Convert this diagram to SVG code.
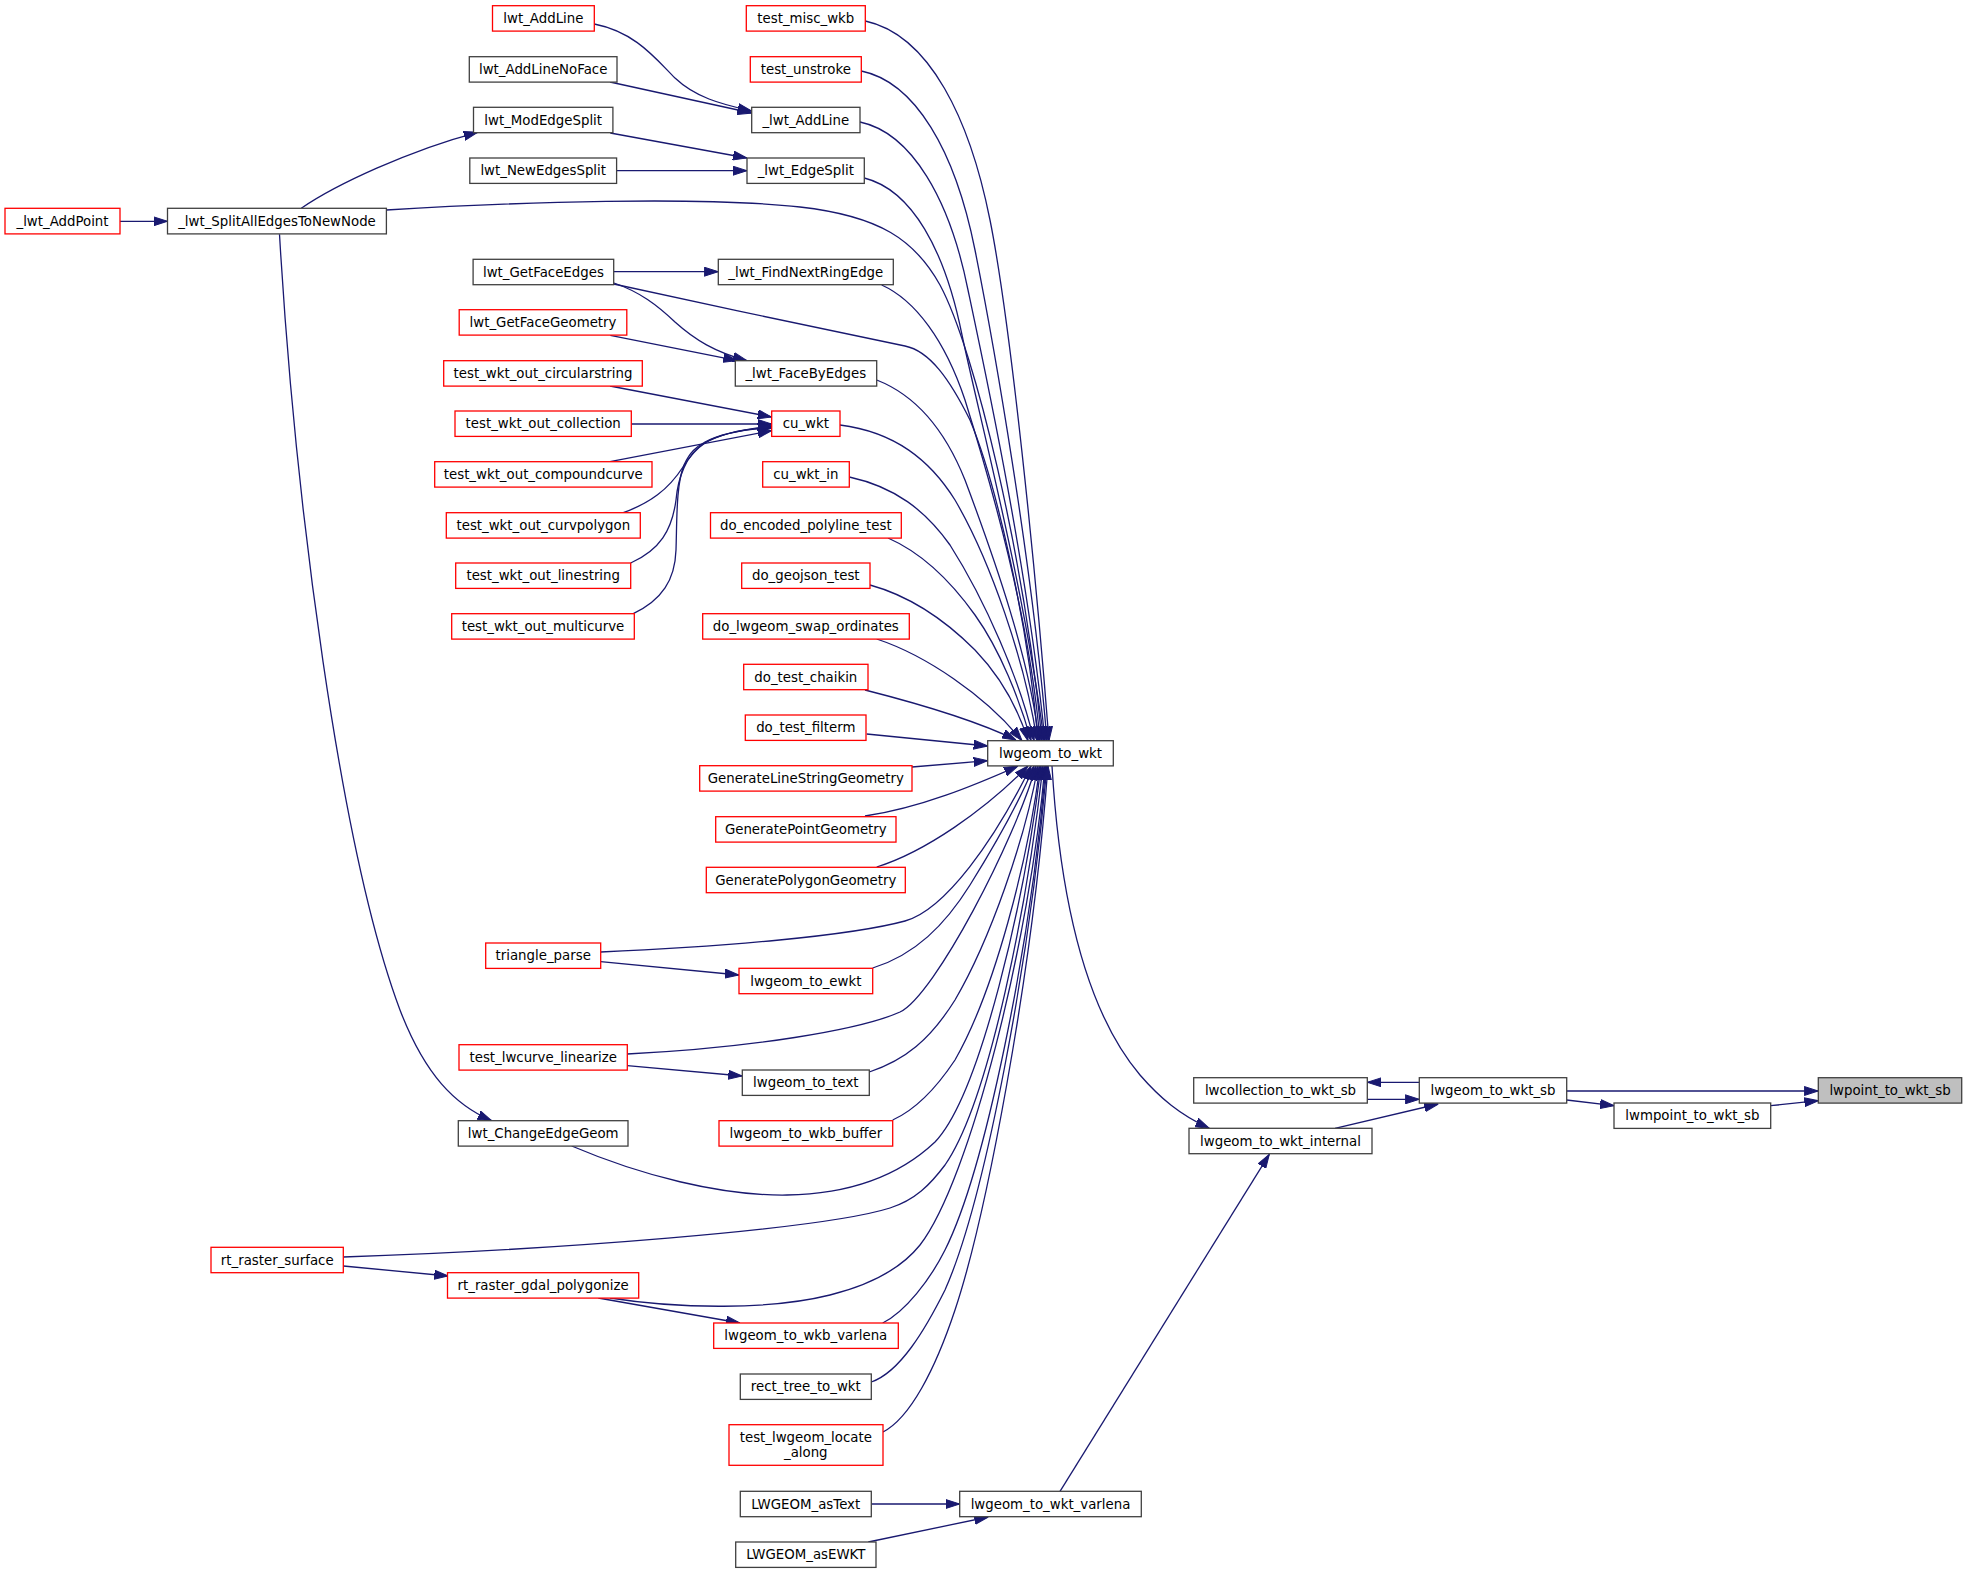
<svg xmlns="http://www.w3.org/2000/svg" width="1967" height="1573" viewBox="0 0 1967 1573">
<style>
.n rect{fill:#ffffff;stroke:#404040;stroke-width:1.3}
.n.r rect{stroke:#ff0000}
.n.g rect{fill:#bfbfbf}
.n text{font-family:"DejaVu Sans","Liberation Sans",sans-serif;font-size:13.33px;fill:#000000;text-anchor:middle}
#edges path{fill:none;stroke:#191970;stroke-width:1.3;marker-end:url(#ah)}
</style>
<defs>
<marker id="ah" markerWidth="14" markerHeight="10" refX="14" refY="5" orient="auto" markerUnits="userSpaceOnUse">
<path d="M0,0.5 L14,5 L0,9.5 z" fill="#191970" stroke="#191970" stroke-width="1"/>
</marker>
</defs>
<rect x="0" y="0" width="1967" height="1573" fill="#ffffff"/>
<g id="edges">
<path d="M1566.7,1091 L1818.3,1091"/>
<path d="M1770.7,1105.7 L1818.3,1100.7"/>
<path d="M1566.7,1100 L1614,1105.7"/>
<path d="M1419.3,1082.3 L1367.3,1082.3"/>
<path d="M1367.3,1099.3 L1419.3,1099.3"/>
<path d="M1335,1128.3 L1438.3,1104"/>
<path d="M1052,766 C1060,900 1085,1010 1140,1075 C1160,1098 1180,1115 1209.3,1128.3"/>
<path d="M1060,1491.3 L1269.3,1154.3"/>
<path d="M871.3,1504 L959.7,1504"/>
<path d="M868.3,1542 L988.3,1517"/>
<path d="M865.3,21 C930,35 970,120 990,220 C1010,320 1035,560 1049,740.7"/>
<path d="M861.3,71 C915,82 955,150 975,250 C993,340 1032,560 1047,740.7"/>
<path d="M860,122 C912,133 950,200 968,290 C985,370 1028,570 1045,740.7"/>
<path d="M864.3,178 C912,190 945,250 962,335 C980,420 1025,590 1044,740.7"/>
<path d="M386.4,210 C520,202 700,196 800,207 C880,216 915,240 940,285 C975,350 1025,560 1042,740.7"/>
<path d="M881.7,285 C915,300 945,340 965,400 C990,480 1030,620 1040,740.7"/>
<path d="M613.7,284 C700,303 850,335 905,346 C930,351 950,380 970,420 C995,480 1028,620 1038,740.7"/>
<path d="M876.7,380 C915,395 945,430 965,480 C995,560 1030,660 1039,740.7"/>
<path d="M840,425 C895,432 930,460 955,500 C990,560 1025,660 1037,740.7"/>
<path d="M849.3,477 C895,487 925,510 950,545 C985,600 1020,680 1034,740.7"/>
<path d="M888,538 C920,552 950,580 975,615 C1000,650 1020,700 1031,740.7"/>
<path d="M870,585 C910,596 945,620 975,650 C1000,676 1017,705 1028,740.7"/>
<path d="M876.7,639 C925,655 985,695 1022,740.7"/>
<path d="M865,690 C920,704 975,720 1016,740"/>
<path d="M866.7,734 L987.7,746"/>
<path d="M912,767 L987.7,760.7"/>
<path d="M865,816 C920,808 975,785 1018,766"/>
<path d="M876.7,867 C925,852 985,810 1028,766"/>
<path d="M600.7,952 C720,947 850,936 905,921 C945,910 995,840 1031,766"/>
<path d="M872.7,968 C915,955 945,925 970,885 C995,845 1020,800 1034,766"/>
<path d="M627.3,1054 C750,1048 860,1030 900,1012 C935,995 1015,840 1036,766"/>
<path d="M869.3,1072 C905,1060 930,1040 955,1000 C990,940 1025,840 1038,766"/>
<path d="M892.7,1120 C915,1110 935,1090 955,1060 C995,990 1028,860 1040,766"/>
<path d="M571.7,1146 C640,1175 720,1196 787,1195 C850,1194 900,1175 935,1142 C980,1095 1025,900 1041,766"/>
<path d="M343.3,1257 C550,1250 820,1230 890,1208 C915,1200 930,1185 945,1165 C990,1100 1028,900 1043,766"/>
<path d="M610,1298 C680,1309 770,1310 830,1295 C870,1285 900,1270 920,1245 C970,1180 1030,940 1045,766"/>
<path d="M882.7,1323 C905,1312 930,1280 945,1250 C985,1170 1030,950 1046,766"/>
<path d="M871.3,1382 C900,1372 925,1330 945,1290 C985,1200 1030,960 1047,766"/>
<path d="M883,1432 C910,1418 935,1370 955,1310 C985,1220 1032,980 1048,766"/>
<path d="M594.3,24 C635,32 655,58 675,78 C695,97 720,104 751.7,111"/>
<path d="M610,82 L751.7,113"/>
<path d="M610.3,133 L747,158"/>
<path d="M616.6,170.7 L747,170.7"/>
<path d="M301.3,208.3 C335,185 410,150 477.7,132.3"/>
<path d="M120,221.3 L167.5,221.3"/>
<path d="M279.5,234.3 C295,500 340,850 400,1010 C425,1075 455,1105 491.7,1120.7"/>
<path d="M613.7,271.7 L718.3,271.7"/>
<path d="M614,283 C640,292 657,305 675,322 C695,340 715,352 747,360.7"/>
<path d="M610.3,335.3 L737.3,360.7"/>
<path d="M610,386 L771.7,417"/>
<path d="M631.3,424 L771.7,424"/>
<path d="M610,461.7 L771.7,430.7"/>
<path d="M623.3,512.7 C650,503 668,490 683,467 C690,456 696,449 705,443 C722,433 745,429 771.7,428"/>
<path d="M630.7,563 C660,550 672,530 676,500 C678,478 686,455 703,444 C720,433 745,429 771.7,427"/>
<path d="M633.3,613.7 C662,600 675,580 676,550 C677,520 676,485 684,465 C690,452 696,447 705,442 C722,433 745,429 771.7,426"/>
<path d="M600.7,961.7 L739,975"/>
<path d="M627.3,1065.7 L742.3,1076"/>
<path d="M343.3,1266 L448.3,1276"/>
<path d="M598.3,1298 L740,1323"/>
</g>
<g id="n_lwpoint_to_wkt_sb" class="n g"><rect x="1818.3" y="1077.7" width="143.4" height="25.4"/><text x="1890" y="1095">lwpoint_to_wkt_sb</text></g>
<g id="n_lwgeom_to_wkt_sb" class="n"><rect x="1419.3" y="1077.7" width="147.4" height="25.4"/><text x="1493" y="1095">lwgeom_to_wkt_sb</text></g>
<g id="n_lwmpoint_to_wkt_sb" class="n"><rect x="1614" y="1103" width="156.7" height="25.4"/><text x="1692.4" y="1120.3">lwmpoint_to_wkt_sb</text></g>
<g id="n_lwcollection_to_wkt_sb" class="n"><rect x="1193.7" y="1077.7" width="173.6" height="25.4"/><text x="1280.5" y="1095">lwcollection_to_wkt_sb</text></g>
<g id="n_lwgeom_to_wkt_internal" class="n"><rect x="1189" y="1128.3" width="183" height="25.4"/><text x="1280.5" y="1145.6">lwgeom_to_wkt_internal</text></g>
<g id="n_lwgeom_to_wkt" class="n"><rect x="987.7" y="740.7" width="125.6" height="25.2"/><text x="1050.5" y="758">lwgeom_to_wkt</text></g>
<g id="n_lwgeom_to_wkt_varlena" class="n"><rect x="959.7" y="1491.3" width="181.6" height="25.4"/><text x="1050.5" y="1508.6">lwgeom_to_wkt_varlena</text></g>
<g id="n_test_misc_wkb" class="n r"><rect x="746.3" y="5.7" width="119" height="25.4"/><text x="805.8" y="23">test_misc_wkb</text></g>
<g id="n_test_unstroke" class="n r"><rect x="750.3" y="56.7" width="111" height="25.4"/><text x="805.8" y="74">test_unstroke</text></g>
<g id="n__lwt_AddLine" class="n"><rect x="751.7" y="107.3" width="108.3" height="25.4"/><text x="805.8" y="124.6">_lwt_AddLine</text></g>
<g id="n__lwt_EdgeSplit" class="n"><rect x="747" y="158" width="117.3" height="25.4"/><text x="805.8" y="175.3">_lwt_EdgeSplit</text></g>
<g id="n__lwt_FindNextRingEdge" class="n"><rect x="718.3" y="259.3" width="175" height="25.4"/><text x="805.8" y="276.6">_lwt_FindNextRingEdge</text></g>
<g id="n__lwt_FaceByEdges" class="n"><rect x="735.3" y="360.7" width="141.4" height="25.4"/><text x="805.8" y="378">_lwt_FaceByEdges</text></g>
<g id="n_cu_wkt" class="n r"><rect x="771.7" y="411" width="68.3" height="25.4"/><text x="805.8" y="428.3">cu_wkt</text></g>
<g id="n_cu_wkt_in" class="n r"><rect x="762.7" y="461.7" width="86.6" height="25.4"/><text x="805.8" y="479">cu_wkt_in</text></g>
<g id="n_do_encoded_polyline_test" class="n r"><rect x="710.5" y="512.7" width="190.8" height="25.4"/><text x="805.8" y="530">do_encoded_polyline_test</text></g>
<g id="n_do_geojson_test" class="n r"><rect x="741.7" y="563" width="128.3" height="25.4"/><text x="805.8" y="580.3">do_geojson_test</text></g>
<g id="n_do_lwgeom_swap_ordinates" class="n r"><rect x="702.7" y="613.7" width="206.6" height="25.4"/><text x="805.8" y="631">do_lwgeom_swap_ordinates</text></g>
<g id="n_do_test_chaikin" class="n r"><rect x="743.7" y="664.3" width="124.3" height="25.4"/><text x="805.8" y="681.6">do_test_chaikin</text></g>
<g id="n_do_test_filterm" class="n r"><rect x="745.3" y="715" width="120.7" height="25.4"/><text x="805.8" y="732.3">do_test_filterm</text></g>
<g id="n_GenerateLineStringGeometry" class="n r"><rect x="699.7" y="765.7" width="212.3" height="25.4"/><text x="805.8" y="783">GenerateLineStringGeometry</text></g>
<g id="n_GeneratePointGeometry" class="n r"><rect x="715.7" y="816.7" width="180.3" height="25.4"/><text x="805.8" y="834">GeneratePointGeometry</text></g>
<g id="n_GeneratePolygonGeometry" class="n r"><rect x="706.3" y="867.3" width="199" height="25.4"/><text x="805.8" y="884.6">GeneratePolygonGeometry</text></g>
<g id="n_lwgeom_to_ewkt" class="n r"><rect x="739" y="968.3" width="133.7" height="25.4"/><text x="805.8" y="985.6">lwgeom_to_ewkt</text></g>
<g id="n_lwgeom_to_text" class="n"><rect x="742.3" y="1070" width="127" height="25.4"/><text x="805.8" y="1087.3">lwgeom_to_text</text></g>
<g id="n_lwgeom_to_wkb_buffer" class="n r"><rect x="719" y="1120.7" width="173.7" height="25.4"/><text x="805.8" y="1138">lwgeom_to_wkb_buffer</text></g>
<g id="n_lwgeom_to_wkb_varlena" class="n r"><rect x="713.7" y="1323" width="184.6" height="25.4"/><text x="805.8" y="1340.3">lwgeom_to_wkb_varlena</text></g>
<g id="n_rect_tree_to_wkt" class="n"><rect x="740.3" y="1374" width="131" height="25.4"/><text x="805.8" y="1391.3">rect_tree_to_wkt</text></g>
<g id="n_test_lwgeom_locate_along" class="n r"><rect x="729" y="1424.7" width="154" height="40.6"/><text x="805.8" y="1442">test_lwgeom_locate</text><text x="805.8" y="1457">_along</text></g>
<g id="n_LWGEOM_asText" class="n"><rect x="740.3" y="1491.3" width="131" height="25.4"/><text x="805.8" y="1508.6">LWGEOM_asText</text></g>
<g id="n_LWGEOM_asEWKT" class="n"><rect x="735.7" y="1542" width="140.3" height="25.4"/><text x="805.8" y="1559.3">LWGEOM_asEWKT</text></g>
<g id="n_lwt_AddLine" class="n r"><rect x="492.5" y="5.7" width="101.8" height="25.4"/><text x="543.4" y="23">lwt_AddLine</text></g>
<g id="n_lwt_AddLineNoFace" class="n"><rect x="469.3" y="56.7" width="147.7" height="25.4"/><text x="543.2" y="74">lwt_AddLineNoFace</text></g>
<g id="n_lwt_ModEdgeSplit" class="n"><rect x="473.5" y="107.3" width="139.4" height="25.4"/><text x="543.2" y="124.6">lwt_ModEdgeSplit</text></g>
<g id="n_lwt_NewEdgesSplit" class="n"><rect x="469.8" y="158" width="146.8" height="25.4"/><text x="543.2" y="175.3">lwt_NewEdgesSplit</text></g>
<g id="n_lwt_GetFaceEdges" class="n"><rect x="473.1" y="259.3" width="140.6" height="25.4"/><text x="543.4" y="276.6">lwt_GetFaceEdges</text></g>
<g id="n_lwt_GetFaceGeometry" class="n r"><rect x="459.2" y="309.7" width="167.6" height="25.4"/><text x="543" y="327">lwt_GetFaceGeometry</text></g>
<g id="n_test_wkt_out_circularstring" class="n r"><rect x="443.7" y="360.7" width="198.6" height="25.4"/><text x="543" y="378">test_wkt_out_circularstring</text></g>
<g id="n_test_wkt_out_collection" class="n r"><rect x="455" y="411" width="176.3" height="25.4"/><text x="543.2" y="428.3">test_wkt_out_collection</text></g>
<g id="n_test_wkt_out_compoundcurve" class="n r"><rect x="434.7" y="461.7" width="217.3" height="25.4"/><text x="543.3" y="479">test_wkt_out_compoundcurve</text></g>
<g id="n_test_wkt_out_curvpolygon" class="n r"><rect x="446.3" y="512.7" width="194" height="25.4"/><text x="543.3" y="530">test_wkt_out_curvpolygon</text></g>
<g id="n_test_wkt_out_linestring" class="n r"><rect x="455.7" y="563" width="175" height="25.4"/><text x="543.2" y="580.3">test_wkt_out_linestring</text></g>
<g id="n_test_wkt_out_multicurve" class="n r"><rect x="451.7" y="613.7" width="182.6" height="25.4"/><text x="543" y="631">test_wkt_out_multicurve</text></g>
<g id="n_triangle_parse" class="n r"><rect x="485.7" y="943" width="115" height="25.4"/><text x="543.2" y="960.3">triangle_parse</text></g>
<g id="n_test_lwcurve_linearize" class="n r"><rect x="459" y="1044.7" width="168.3" height="25.4"/><text x="543.2" y="1062">test_lwcurve_linearize</text></g>
<g id="n_lwt_ChangeEdgeGeom" class="n"><rect x="458.3" y="1120.7" width="169.7" height="25.4"/><text x="543.2" y="1138">lwt_ChangeEdgeGeom</text></g>
<g id="n_rt_raster_gdal_polygonize" class="n r"><rect x="447.5" y="1272.7" width="191.2" height="25.4"/><text x="543.1" y="1290">rt_raster_gdal_polygonize</text></g>
<g id="n__lwt_SplitAllEdgesToNewNode" class="n"><rect x="167.5" y="208.3" width="218.9" height="25.6"/><text x="277" y="225.6">_lwt_SplitAllEdgesToNewNode</text></g>
<g id="n_rt_raster_surface" class="n r"><rect x="211" y="1247.3" width="132.3" height="25.4"/><text x="277.2" y="1264.6">rt_raster_surface</text></g>
<g id="n__lwt_AddPoint" class="n r"><rect x="5" y="208.3" width="115" height="25.6"/><text x="62.5" y="225.6">_lwt_AddPoint</text></g>
</svg>
